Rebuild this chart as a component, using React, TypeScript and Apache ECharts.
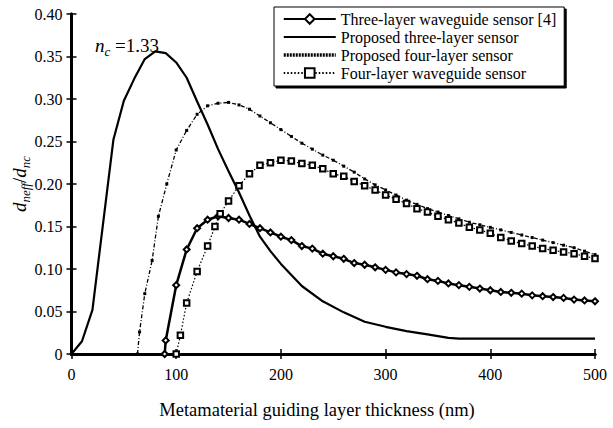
import React, { useEffect, useRef } from "react";
import * as echarts from "echarts";

const FONT = '"Liberation Serif", "Times New Roman", serif';

const refThreeX = [89, 90, 100, 110, 120, 130, 140, 150, 160, 170, 180, 190, 200, 210, 220, 230, 240, 250, 260, 270, 280, 290, 300, 310, 320, 330, 340, 350, 360, 370, 380, 390, 400, 410, 420, 430, 440, 450, 460, 470, 480, 490, 500];
const refThreeY = [0, 0.016, 0.081, 0.123, 0.148, 0.158, 0.162, 0.16, 0.158, 0.153, 0.148, 0.143, 0.138, 0.134, 0.127, 0.124, 0.118, 0.115, 0.112, 0.107, 0.105, 0.102, 0.099, 0.096, 0.094, 0.092, 0.088, 0.086, 0.083, 0.081, 0.079, 0.077, 0.075, 0.073, 0.072, 0.071, 0.069, 0.068, 0.067, 0.066, 0.064, 0.063, 0.062];

const propThreeX = [0, 10, 20, 40, 50, 60, 70, 80, 90, 100, 110, 120, 130, 140, 150, 160, 170, 180, 190, 200, 220, 240, 260, 280, 300, 320, 340, 360, 370, 500];
const propThreeY = [0, 0.015, 0.052, 0.252, 0.298, 0.324, 0.347, 0.356, 0.354, 0.343, 0.325, 0.297, 0.27, 0.241, 0.215, 0.19, 0.163, 0.138, 0.121, 0.106, 0.08, 0.062, 0.049, 0.038, 0.032, 0.027, 0.023, 0.019, 0.018, 0.018];

const propFourX = [63, 65, 70, 77, 83, 91, 100, 110, 120, 130, 140, 150, 160, 170, 180, 190, 200, 210, 220, 230, 240, 250, 260, 270, 280, 290, 300, 310, 320, 330, 340, 350, 360, 370, 380, 390, 400, 410, 420, 430, 440, 450, 460, 470, 480, 490, 500];
const propFourY = [0, 0.026, 0.071, 0.11, 0.162, 0.2, 0.24, 0.263, 0.282, 0.292, 0.295, 0.296, 0.293, 0.288, 0.28, 0.272, 0.264, 0.256, 0.248, 0.241, 0.234, 0.228, 0.221, 0.214, 0.206, 0.199, 0.193, 0.187, 0.181, 0.176, 0.171, 0.167, 0.163, 0.159, 0.155, 0.152, 0.149, 0.146, 0.143, 0.14, 0.137, 0.134, 0.131, 0.128, 0.125, 0.121, 0.117];

const refFourX = [100, 104, 110, 120, 130, 137, 142, 150, 160, 170, 180, 190, 200, 210, 220, 230, 240, 250, 260, 270, 280, 290, 300, 310, 320, 330, 340, 350, 360, 370, 380, 390, 400, 410, 420, 430, 440, 450, 460, 470, 480, 490, 500];
const refFourY = [0, 0.022, 0.06, 0.097, 0.127, 0.15, 0.165, 0.18, 0.198, 0.212, 0.222, 0.225, 0.228, 0.227, 0.224, 0.222, 0.218, 0.212, 0.209, 0.203, 0.198, 0.193, 0.187, 0.182, 0.177, 0.171, 0.167, 0.162, 0.158, 0.154, 0.149, 0.146, 0.142, 0.137, 0.133, 0.13, 0.127, 0.124, 0.122, 0.12, 0.118, 0.115, 0.1125];

const seriesNames = [
  "Three-layer waveguide sensor [4]",
  "Proposed three-layer sensor",
  "Proposed four-layer sensor",
  "Four-layer waveguide sensor",
];

const xTicks = { min: 0, max: 500, interval: 100 };
const yTicks = { min: 0, max: 0.4, interval: 0.05 };

const zip = (xs: number[], ys: number[]) => xs.map((x, i) => [x, ys[i]]);

export default function App() {
  const ref = useRef<HTMLDivElement>(null);
  useEffect(() => {
    if (!ref.current) return;
    const chart = echarts.init(ref.current, undefined, { renderer: "svg" });
    const axisLine = { show: true, lineStyle: { color: "#000", width: 3 } };
    const tick = { show: true, inside: true, length: 5, lineStyle: { color: "#000", width: 1.5 } };
    const rich = {
      i: { fontFamily: FONT, fontStyle: "italic", fontSize: 19, lineHeight: 19, verticalAlign: "top", fill: "#000", color: "#000" },
      n: { fontFamily: FONT, fontSize: 19, lineHeight: 19, verticalAlign: "top", fill: "#000", color: "#000" },
      s: { fontFamily: FONT, fontStyle: "italic", fontSize: 13, lineHeight: 13, padding: [9, 0, 0, 0], verticalAlign: "top", fill: "#000", color: "#000" },
    };
    chart.setOption({
      animation: false,
      backgroundColor: "#fff",
      textStyle: { fontFamily: FONT, color: "#000" },
      grid: { left: 71.5, right: 18, top: 14, bottom: 74, containLabel: false },
      legend: {
        data: [
          { name: seriesNames[0] },
          { name: seriesNames[1], itemStyle: { opacity: 0 } },
          { name: seriesNames[2], itemStyle: { opacity: 0 }, lineStyle: { width: 3.5, type: [2, 1] } },
          { name: seriesNames[3] },
        ],
        orient: "vertical",
        left: 274,
        top: 7,
        itemWidth: 52,
        itemHeight: 12,
        itemGap: 2,
        padding: [4, 8, 5, 8],
        backgroundColor: "#fff",
        borderColor: "#000",
        borderWidth: 1,
        shadowColor: "#000",
        shadowOffsetX: 2,
        shadowOffsetY: 2,
        shadowBlur: 0,
        formatter: (name: string) => "{t|" + name + "}",
        textStyle: {
          fontFamily: FONT, fontSize: 16, color: "#000", width: 245,
          rich: { t: { fontFamily: FONT, fontSize: 16, color: "#000" } },
        },
      },
      xAxis: [
        {
          type: "value", position: "bottom", ...xTicks,
          axisLine, axisTick: tick,
          axisLabel: { fontFamily: FONT, fontSize: 16, color: "#000", margin: 12 },
          splitLine: { show: false },
        },
        {
          type: "value", position: "top", ...xTicks,
          axisLine, axisTick: tick, axisLabel: { show: false }, splitLine: { show: false },
        },
      ],
      yAxis: [
        {
          type: "value", position: "left", ...yTicks,
          axisLine, axisTick: tick,
          axisLabel: {
            fontFamily: FONT, fontSize: 16, color: "#000", margin: 9,
            formatter: (v: number) => (v === 0 ? "0" : v.toFixed(2)),
          },
          splitLine: { show: false },
        },
        {
          type: "value", position: "right", ...yTicks,
          axisLine, axisTick: tick, axisLabel: { show: false }, splitLine: { show: false },
        },
      ],
      series: [
        {
          name: seriesNames[0], type: "line", xAxisIndex: 0, yAxisIndex: 0,
          data: zip(refThreeX, refThreeY),
          symbol: "emptyDiamond", symbolSize: 6, showAllSymbol: true,
          lineStyle: { color: "#000", width: 2.5 },
          itemStyle: { color: "#000", borderColor: "#000", borderWidth: 1.8 },
          z: 4,
        },
        {
          name: seriesNames[1], type: "line", xAxisIndex: 0, yAxisIndex: 0,
          data: zip(propThreeX, propThreeY),
          symbol: "none",
          lineStyle: { color: "#000", width: 2.2 },
          itemStyle: { color: "#000" },
          z: 3,
        },
        {
          name: seriesNames[2], type: "line", xAxisIndex: 0, yAxisIndex: 0,
          data: zip(propFourX, propFourY),
          symbol: "rect", symbolSize: 3, showAllSymbol: true,
          lineStyle: { color: "#000", width: 1.3, type: [4, 2, 1, 2] },
          itemStyle: { color: "#000" },
          z: 2,
        },
        {
          name: seriesNames[3], type: "line", xAxisIndex: 0, yAxisIndex: 0,
          data: zip(refFourX, refFourY),
          symbol: "emptyRect", symbolSize: 5.5, showAllSymbol: true,
          lineStyle: { color: "#000", width: 1.2, type: [1.5, 2] },
          itemStyle: { color: "#000", borderColor: "#000", borderWidth: 1.8 },
          z: 5,
        },
      ],
      graphic: [
        {
          type: "text", x: 317, y: 410, z: 100,
          style: {
            text: "Metamaterial guiding layer thickness (nm)",
            fontFamily: FONT, fontSize: 18.5, fill: "#000",
            align: "center", verticalAlign: "middle",
          },
        },
        {
          type: "text", x: 19, y: 184, rotation: Math.PI / 2, z: 100,
          style: {
            text: "{i|d}{s|neff}{n|/}{i|d}{s|nc}",
            rich, align: "center", verticalAlign: "middle",
          },
        },
        {
          type: "text", x: 95, y: 45, z: 100,
          style: {
            text: "{i|n}{s|c}{n| =1.33}",
            rich, align: "left", verticalAlign: "middle",
          },
        },
      ],
    });
    return () => chart.dispose();
  }, []);
  return (
    <div
      ref={ref}
      style={{ position: "fixed", left: 0, top: 0, width: 613, height: 428, background: "#fff" }}
    />
  );
}
